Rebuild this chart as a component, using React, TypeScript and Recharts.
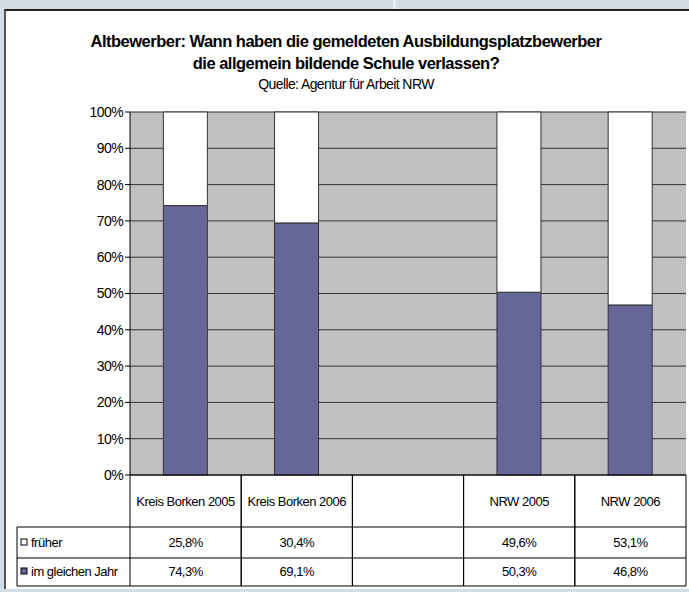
import React from 'react';
import { BarChart, Bar, XAxis, YAxis, CartesianGrid } from 'recharts';

const categories = ['Kreis Borken 2005', 'Kreis Borken 2006', ' ', 'NRW 2005', 'NRW 2006'];
const frueher = [25.8, 30.4, null, 49.6, 53.1];
const gleichesJahr = [74.3, 69.1, null, 50.3, 46.8];
const yTicks = [0, 0.1, 0.2, 0.3, 0.4, 0.5, 0.6, 0.7, 0.8, 0.9, 1];

const seriesNames = ['früher', 'im gleichen Jahr'];
const COLOR_FRUEHER = '#ffffff';
const COLOR_GLEICH = '#666699';

const data = categories.map((c, i) => ({
  name: c,
  frueher: frueher[i],
  gleich: gleichesJahr[i],
}));

const fmt = (v: number | null) => (v == null ? '' : v.toFixed(1).replace('.', ',') + '%');

const FONT = '"Liberation Sans", Arial, sans-serif';
const TXT = { fontFamily: FONT, fontSize: 13, letterSpacing: '-0.5px', fill: '#000' } as const;
const YTXT = { fontFamily: FONT, fontSize: 14, letterSpacing: '-0.6px', fill: '#000' } as const;

// table rows (layout)
const TABLE_TOP = 475;
const ROW1 = 527;
const ROW2 = 558;
const TABLE_BOTTOM = 586;
const TABLE_LEFT = 17;

function TableTick(props: any) {
  const { x, payload } = props;
  const i = payload?.index ?? props.index ?? 0;
  const half = payload?.offset || 55.6;
  const l = x - half;
  const r = x + half;
  const line = { stroke: '#000', strokeWidth: 1 };
  return (
    <g>
      <line x1={l} y1={TABLE_TOP} x2={l} y2={TABLE_BOTTOM} {...line} />
      <line x1={r} y1={TABLE_TOP} x2={r} y2={TABLE_BOTTOM} {...line} />
      <line x1={l} y1={ROW1} x2={r} y2={ROW1} {...line} />
      <line x1={l} y1={ROW2} x2={r} y2={ROW2} {...line} />
      <line x1={l} y1={TABLE_BOTTOM} x2={r} y2={TABLE_BOTTOM} {...line} />
      <text x={x} y={506} textAnchor="middle" style={TXT}>{categories[i]}</text>
      <text x={x} y={547} textAnchor="middle" style={TXT}>{fmt(frueher[i])}</text>
      <text x={x} y={576} textAnchor="middle" style={TXT}>{fmt(gleichesJahr[i])}</text>
      {i === 0 && (
        <g>
          <line x1={TABLE_LEFT} y1={ROW1} x2={l} y2={ROW1} {...line} />
          <line x1={TABLE_LEFT} y1={ROW2} x2={l} y2={ROW2} {...line} />
          <line x1={TABLE_LEFT} y1={TABLE_BOTTOM} x2={l} y2={TABLE_BOTTOM} {...line} />
          <line x1={TABLE_LEFT} y1={ROW1} x2={TABLE_LEFT} y2={TABLE_BOTTOM} {...line} />
          <rect x={21} y={539} width={6} height={6} fill={COLOR_FRUEHER} stroke="#000" strokeWidth={1} />
          <rect x={21} y={568} width={6} height={6} fill={COLOR_GLEICH} stroke="#000" strokeWidth={1} />
          <text x={31} y={547} style={TXT}>{seriesNames[0]}</text>
          <text x={31} y={576} style={TXT}>{seriesNames[1]}</text>
        </g>
      )}
    </g>
  );
}

export default function App() {
  return (
    <div style={{ position: 'fixed', left: 0, top: 0, width: 689, height: 592, background: '#d2dde5', overflow: 'hidden' }}>
      <div style={{ position: 'absolute', left: 393, top: 0, width: 3, height: 9, background: '#e4ecf2' }} />
      <div
        style={{
          position: 'absolute',
          left: 4,
          top: 9,
          width: 690,
          height: 580,
          background: '#fff',
          borderTop: '2px solid #222',
          borderLeft: '2px solid #555',
          boxSizing: 'border-box',
        }}
      />
      <div
        style={{
          position: 'absolute',
          left: 0,
          width: 692,
          top: 30,
          textAlign: 'center',
          fontFamily: FONT,
          fontWeight: 'bold',
          fontSize: 16.5,
          letterSpacing: '-0.5px',
          lineHeight: '22px',
          color: '#000',
        }}
      >
        <div>Altbewerber: Wann haben die gemeldeten Ausbildungsplatzbewerber</div>
        <div>die allgemein bildende Schule verlassen?</div>
        <div style={{ fontWeight: 'normal', fontSize: 14, letterSpacing: '-0.6px', lineHeight: '20px' }}>
          Quelle: Agentur für Arbeit NRW
        </div>
      </div>
      <div style={{ position: 'absolute', left: 0, top: 0 }}>
        <BarChart
          width={689}
          height={592}
          data={data}
          stackOffset="expand"
          barCategoryGap="30%"
          margin={{ top: 112, right: 3, bottom: 6, left: 0 }}
        >
          <CartesianGrid vertical={false} fill="#c0c0c0" stroke="#333" strokeWidth={1} />
          <XAxis
            dataKey="name"
            height={111}
            interval={0}
            tickLine={false}
            axisLine={{ stroke: '#000' }}
            tick={<TableTick />}
          />
          <YAxis
            width={130}
            domain={[0, 1]}
            ticks={yTicks}
            interval={0}
            tickFormatter={(v: number) => `${Math.round(v * 100)}%`}
            axisLine={{ stroke: '#000' }}
            tickLine={{ stroke: '#000' }}
            tickSize={5}
            tick={YTXT}
          />
          <Bar dataKey="gleich" stackId="a" fill={COLOR_GLEICH} stroke="#333" strokeWidth={1} isAnimationActive={false} />
          <Bar dataKey="frueher" stackId="a" fill={COLOR_FRUEHER} stroke="#333" strokeWidth={1} isAnimationActive={false} />
        </BarChart>
      </div>
    </div>
  );
}
